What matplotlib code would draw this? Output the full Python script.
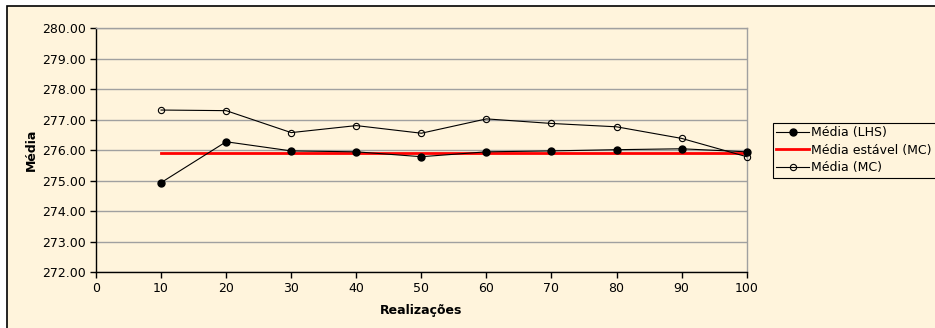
import matplotlib
matplotlib.use("Agg")
import matplotlib.pyplot as plt
from matplotlib.patches import Rectangle

# Data
realizacoes = [10, 20, 30, 40, 50, 60, 70, 80, 90, 100]
media_lhs = [274.94, 276.28, 275.98, 275.95, 275.79, 275.95, 275.98, 276.02, 276.05, 275.95]
media_mc = [277.32, 277.30, 276.58, 276.81, 276.56, 277.03, 276.88, 276.77, 276.39, 275.79]
media_estavel_mc = [275.92] * len(realizacoes)

x_ticks = [0, 10, 20, 30, 40, 50, 60, 70, 80, 90, 100]
y_ticks = [272, 273, 274, 275, 276, 277, 278, 279, 280]

BG = "#FFF4DC"
GRID = "#A0A0A0"
FS = 9

plt.rcParams["font.family"] = ["DejaVu Sans"]
plt.rcParams["font.size"] = FS

W, H = 935, 328
fig = plt.figure(figsize=(W / 100, H / 100), dpi=100)
fig.patch.set_facecolor("white")

# Chart-area frame, drawn beneath the axes
fig.patches.append(Rectangle((7 / W, -0.05), 1.1, 1 - 6 / H + 0.05,
                             transform=fig.transFigure, facecolor=BG,
                             edgecolor="black", linewidth=1.2, zorder=-10))

left, right = 96 / W, 746.7 / W
bottom, top = 1 - 272.3 / H, 1 - 28.3 / H
ax = fig.add_axes([left, bottom, right - left, top - bottom])
ax.set_facecolor(BG)

ax.set_xlim(0, 100)
ax.set_ylim(272, 280)
ax.set_xticks(x_ticks)
ax.set_yticks(y_ticks)
ax.set_yticklabels([f"{v:.2f}" for v in y_ticks])
ax.tick_params(direction="out", length=4, width=1, colors="black", labelsize=FS, pad=3)

ax.yaxis.grid(True, color=GRID, linewidth=1)
ax.set_axisbelow(True)
for side in ("top", "right"):
    ax.spines[side].set_color(GRID)
    ax.spines[side].set_linewidth(1)
for side in ("left", "bottom"):
    ax.spines[side].set_color("black")
    ax.spines[side].set_linewidth(1)

l1, = ax.plot(realizacoes, media_lhs, color="black", linewidth=0.8,
              marker="o", markersize=5, markerfacecolor="black",
              markeredgecolor="black", label="Média (LHS)", zorder=4, clip_on=False)
l2, = ax.plot(realizacoes, media_estavel_mc, color="#FF0000", linewidth=2,
              label="Média estável (MC)", zorder=3, clip_on=False)
l3, = ax.plot(realizacoes, media_mc, color="black", linewidth=0.8,
              marker="o", markersize=4.5, markerfacecolor="none",
              markeredgecolor="black", markeredgewidth=0.8,
              label="Média (MC)", zorder=5, clip_on=False)

ax.set_xlabel("Realizações", fontweight="bold", fontsize=FS, labelpad=6.5)
ax.set_ylabel("Média", fontweight="bold", fontsize=FS, labelpad=3)

leg = fig.legend(handles=[l1, l2, l3], loc="upper left",
                 bbox_to_anchor=(772.7 / W, 1 - 122.7 / H),
                 frameon=True, fancybox=False, edgecolor="black",
                 facecolor=BG, framealpha=1, fontsize=FS,
                 handlelength=2.6, handletextpad=0.2, borderpad=0.3,
                 labelspacing=0.35, borderaxespad=0)
leg.get_frame().set_linewidth(0.8)

fig.savefig("out.png", dpi=100, facecolor=fig.get_facecolor())
